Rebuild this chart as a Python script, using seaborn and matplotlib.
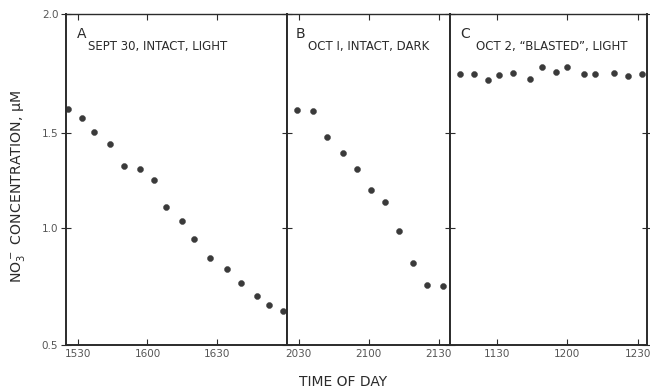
import numpy as np
import pandas as pd
import matplotlib
matplotlib.use("Agg")
import matplotlib.pyplot as plt
import matplotlib.ticker as mticker
import seaborn as sns

# --- Data (time of day, NO3- concentration in uM) ---
times_a = ["15:26", "15:32", "15:37", "15:44", "15:50", "15:57", "16:03", "16:08",
           "16:15", "16:20", "16:27", "16:34", "16:40", "16:47", "16:52", "16:58"]
conc_a = [1.600, 1.562, 1.505, 1.442, 1.328, 1.311, 1.253, 1.112,
          1.037, 0.953, 0.873, 0.826, 0.766, 0.708, 0.671, 0.647]

times_b = ["20:29", "20:36", "20:42", "20:49", "20:55", "21:01", "21:07", "21:13",
           "21:19", "21:25", "21:32"]
conc_b = [1.597, 1.592, 1.479, 1.395, 1.311, 1.200, 1.135, 0.988, 0.850, 0.756, 0.751]

times_c = ["11:14", "11:20", "11:26", "11:31", "11:37", "11:44", "11:49", "11:55",
           "12:00", "12:07", "12:12", "12:20", "12:26", "12:32"]
conc_c = [1.748, 1.749, 1.723, 1.742, 1.753, 1.726, 1.779, 1.755,
          1.779, 1.749, 1.748, 1.753, 1.739, 1.748]

letters = ["A", "B", "C"]
titles = ["SEPT 30, INTACT, LIGHT", "OCT I, INTACT, DARK", "OCT 2, \u201cBLASTED\u201d, LIGHT"]
xticks = [["15:30", "16:00", "16:30"], ["20:30", "21:00", "21:30"], ["11:30", "12:00", "12:30"]]
xlims = [["15:25", "17:00"], ["20:25", "21:35"], ["11:10", "12:34"]]
yticks = [0.5, 1.0, 1.5, 2.0]


def to_min(t):
    h, m = t.split(":")
    return int(h) * 60 + int(m)


def clock(x, pos=None):
    x = int(round(x))
    return f"{x // 60}{x % 60:02d}"


# the hand-drawn y axis is not evenly spaced: calibrate ticks to their drawn height
tick_height = [0, 117, 212, 331]


def fwd(v):
    return np.interp(v, yticks, tick_height)


def inv(p):
    return np.interp(p, tick_height, yticks)


sns.set_style("white")
plt.rcParams["font.family"] = ["DejaVu Sans"]
plt.rcParams["mathtext.fontset"] = "dejavusans"

fig = plt.figure(figsize=(6.5, 3.89), dpi=100)
gs = fig.add_gridspec(1, 3, width_ratios=[95, 70, 84.5], wspace=0,
                      left=0.1015, right=0.9954, top=0.964, bottom=0.113)

panels = [(times_a, conc_a), (times_b, conc_b), (times_c, conc_c)]
ink = "#2b2b2b"
gray = "#555555"

for i, (tt, cc) in enumerate(panels):
    ax = fig.add_subplot(gs[0, i])
    df = pd.DataFrame({"minute": [to_min(t) for t in tt], "conc": cc})
    sns.scatterplot(data=df, x="minute", y="conc", ax=ax, s=19, color="#3a3a3a",
                    edgecolor="#3a3a3a", linewidth=0.3)
    ax.set_yscale("function", functions=(fwd, inv))
    ax.set_ylim(0.5, 2.0)
    ax.set_xlim(to_min(xlims[i][0]), to_min(xlims[i][1]))
    ax.xaxis.set_major_locator(mticker.FixedLocator([to_min(t) for t in xticks[i]]))
    ax.xaxis.set_major_formatter(mticker.FuncFormatter(clock))
    ax.yaxis.set_major_locator(mticker.FixedLocator(yticks))
    ax.yaxis.set_minor_locator(mticker.NullLocator())
    ax.yaxis.set_major_formatter(mticker.FormatStrFormatter("%.1f"))
    ax.set_xlabel("")
    ax.set_ylabel("")
    for sp in ax.spines.values():
        sp.set_visible(True)
        sp.set_color(ink)
        sp.set_linewidth(1.4)
    ax.spines["top"].set_linewidth(1.0)
    ax.tick_params(axis="x", direction="in", top=True, bottom=True, length=4,
                   width=0.8, color=ink, labelsize=7.5, labelcolor=gray, pad=3)
    ax.tick_params(axis="y", direction="inout", left=True, right=(i == 2), length=7,
                   width=0.8, color=ink, labelsize=7.5, labelcolor=gray, pad=2)
    if i > 0:
        ax.tick_params(axis="y", labelleft=False)
    ax.text(0.05, 0.94, letters[i], transform=ax.transAxes, fontsize=10,
            color=ink, ha="left", va="center")
    ax.text(0.1 if i == 0 else 0.13, 0.903, titles[i], transform=ax.transAxes,
            fontsize=8.5, color=ink, ha="left", va="center")

fig.text(0.528, 0.018, "TIME OF DAY", ha="center", va="center", fontsize=10, color=ink)
fig.text(0.027, 0.52, "NO$_3^-$ CONCENTRATION, \u00b5M", rotation=90,
         ha="center", va="center", fontsize=10.2, color=ink)

fig.savefig("out.png", dpi=100)
